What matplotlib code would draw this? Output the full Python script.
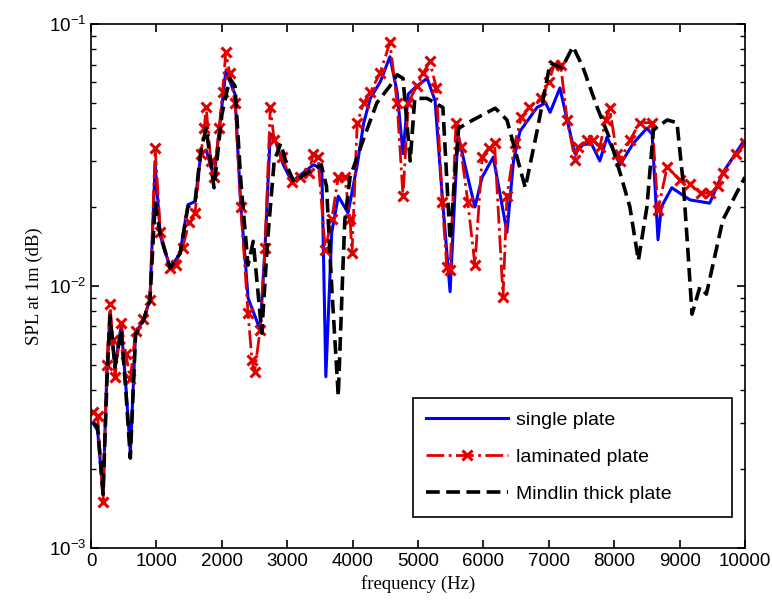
import numpy as np
import matplotlib
matplotlib.use('Agg')
import matplotlib.pyplot as plt

# single plate
f_single = [30, 100, 183, 240, 290, 365, 460, 530, 600, 680, 800, 900, 980, 1060, 1210, 1360,
            1480, 1590, 1680, 1760, 1880, 2060, 2200, 2290, 2350, 2400, 2585, 2660, 2740, 2800,
            2940, 3070, 3200, 3400, 3470, 3530, 3590, 3680, 3780, 3930, 4070, 4170, 4270, 4420,
            4570, 4680, 4770, 4850, 4980, 5140, 5260, 5370, 5490, 5610, 5760, 5870, 5980, 6150,
            6220, 6360, 6460, 6560, 6820, 6950, 7020, 7170, 7280, 7400, 7520, 7650, 7780, 7890,
            8090, 8290, 8500, 8580, 8670, 8720, 8880, 9160, 9460, 9660, 9970]
spl_single = [0.0030, 0.0028, 0.0016, 0.0045, 0.0079, 0.0049, 0.0070, 0.0042, 0.0023, 0.0066,
              0.0074, 0.0089, 0.029, 0.0155, 0.0117, 0.0133, 0.0204, 0.021, 0.032, 0.033, 0.026,
              0.066, 0.054, 0.020, 0.0133, 0.009, 0.0068, 0.014, 0.038, 0.037, 0.029, 0.025,
              0.0265, 0.029, 0.0285, 0.027, 0.0045, 0.016, 0.022, 0.019, 0.029, 0.042, 0.052,
              0.060, 0.075, 0.055, 0.032, 0.054, 0.058, 0.062, 0.051, 0.022, 0.0095, 0.038,
              0.026, 0.020, 0.026, 0.031, 0.025, 0.016, 0.030, 0.039, 0.048, 0.050, 0.046,
              0.057, 0.043, 0.032, 0.0346, 0.035, 0.030, 0.037, 0.029, 0.035, 0.040, 0.038,
              0.015, 0.020, 0.0237, 0.0213, 0.0207, 0.027, 0.0354]

# laminated plate
f_lam = [30, 100, 183, 240, 290, 330, 365, 460, 530, 600, 680, 800, 900, 980, 1060, 1210, 1300,
         1400, 1500, 1590, 1680, 1730, 1760, 1830, 1880, 1960, 2010, 2060, 2120, 2200, 2290, 2400,
         2460, 2500, 2585, 2660, 2740, 2800, 2920, 3070, 3200, 3330, 3400, 3470, 3580, 3680, 3780,
         3880, 3960, 3990, 4070, 4170, 4270, 4420, 4570, 4680, 4770, 4850, 4980, 5080, 5180, 5280,
         5370, 5440, 5490, 5580, 5650, 5760, 5870, 5980, 6080, 6170, 6300, 6360, 6480, 6580, 6700,
         6880, 7000, 7080, 7180, 7280, 7400, 7450, 7590, 7680, 7780, 7870, 7930, 8040, 8090, 8240,
         8390, 8580, 8670, 8810, 9000, 9160, 9320, 9460, 9580, 9660, 9870, 10000]
spl_lam = [0.0033, 0.0032, 0.0015, 0.0050, 0.0085, 0.0062, 0.0045, 0.0072, 0.0055, 0.0044,
           0.0067, 0.0075, 0.0088, 0.0335, 0.016, 0.0117, 0.0120, 0.014, 0.0176, 0.019, 0.032,
           0.040, 0.048, 0.030, 0.026, 0.040, 0.055, 0.078, 0.065, 0.050, 0.020, 0.0079, 0.0052,
           0.0047, 0.0068, 0.014, 0.048, 0.036, 0.031, 0.025, 0.026, 0.027, 0.032, 0.031, 0.0137,
           0.018, 0.026, 0.026, 0.018, 0.0133, 0.042, 0.050, 0.055, 0.065, 0.085, 0.050, 0.022,
           0.050, 0.058, 0.065, 0.072, 0.057, 0.021, 0.0118, 0.0115, 0.042, 0.034, 0.021, 0.012,
           0.031, 0.0337, 0.035, 0.0091, 0.022, 0.035, 0.044, 0.048, 0.052, 0.060, 0.0698, 0.070,
           0.043, 0.0303, 0.034, 0.036, 0.036, 0.034, 0.043, 0.0477, 0.032, 0.030, 0.036, 0.042,
           0.042, 0.0195, 0.0285, 0.0254, 0.0245, 0.0226, 0.0226, 0.024, 0.027, 0.032, 0.035]

# Mindlin thick plate
f_mind = [30, 100, 183, 240, 290, 365, 460, 530, 600, 680, 800, 900, 980, 1060, 1210, 1360, 1480,
          1590, 1680, 1760, 1880, 2000, 2120, 2200, 2290, 2400, 2480, 2610, 2700, 2800, 2900, 3000,
          3100, 3300, 3520, 3600, 3680, 3780, 3850, 3880, 3960, 4160, 4370, 4570, 4680, 4770, 4880,
          4950, 5140, 5380, 5490, 5620, 5840, 6180, 6360, 6640, 6820, 7020, 7200, 7370, 7520, 7740,
          7940, 8090, 8240, 8370, 8500, 8600, 8810, 8960, 9060, 9130, 9190, 9310, 9410, 9660, 9870,
          10000]
spl_mind = [0.0030, 0.0029, 0.0016, 0.0042, 0.0077, 0.0049, 0.0068, 0.0040, 0.0022, 0.0065,
            0.0074, 0.0088, 0.0207, 0.0155, 0.0117, 0.0133, 0.020, 0.021, 0.033, 0.040, 0.0237,
            0.045, 0.062, 0.058, 0.025, 0.012, 0.0148, 0.0066, 0.015, 0.030, 0.035, 0.0285, 0.025,
            0.027, 0.029, 0.024, 0.0099, 0.0038, 0.0115, 0.0178, 0.026, 0.036, 0.050, 0.058, 0.064,
            0.062, 0.030, 0.052, 0.052, 0.048, 0.015, 0.040, 0.043, 0.0477, 0.043, 0.0237, 0.039,
            0.071, 0.068, 0.082, 0.0686, 0.048, 0.036, 0.027, 0.020, 0.0125, 0.020, 0.0394, 0.043,
            0.042, 0.024, 0.0133, 0.0078, 0.0099, 0.0093, 0.0178, 0.0226, 0.026]

fig = plt.figure(figsize=(7.72, 6.0), dpi=100)
ax = fig.add_axes([0.118, 0.087, 0.847, 0.873])

ax.plot(f_single, spl_single, '-', color='#0000ff', lw=2.2, label='single plate')
ax.plot(f_lam, spl_lam, '-.', color='#e00000', lw=2.0, marker='x', markersize=7,
        markeredgewidth=2.2, label='laminated plate')
ax.plot(f_mind, spl_mind, '--', color='black', lw=2.6, dashes=(3.8, 1.8), label='Mindlin thick plate')

ax.set_yscale('log')
ax.set_xlim(0, 10000)
ax.set_ylim(1e-3, 1e-1)
ax.set_xticks(np.arange(0, 10001, 1000))

sans = 'Liberation Sans'
ax.tick_params(which='both', direction='in', top=True, right=True, labelsize=13.5)
ax.tick_params(which='major', length=6, width=1.2)
ax.tick_params(which='minor', length=3.5, width=1.0)
for lab in ax.get_xticklabels() + ax.get_yticklabels():
    lab.set_fontfamily(sans)
for sp in ax.spines.values():
    sp.set_linewidth(1.2)

ax.set_xlabel('frequency (Hz)', family='Liberation Serif', fontsize=13.5)
ax.set_ylabel('SPL at 1m (dB)', family='Liberation Serif', fontsize=13.5)

leg = ax.legend(loc='lower left', bbox_to_anchor=(0.492, 0.059, 0.488, 0.227), mode='expand',
                fancybox=False, edgecolor='black', framealpha=1, handlelength=4.2,
                handletextpad=0.4, borderpad=0.7, labelspacing=1.0, borderaxespad=0,
                prop={'family': sans, 'size': 14})
leg.get_frame().set_linewidth(1.2)

plt.savefig('out.png', dpi=100)
